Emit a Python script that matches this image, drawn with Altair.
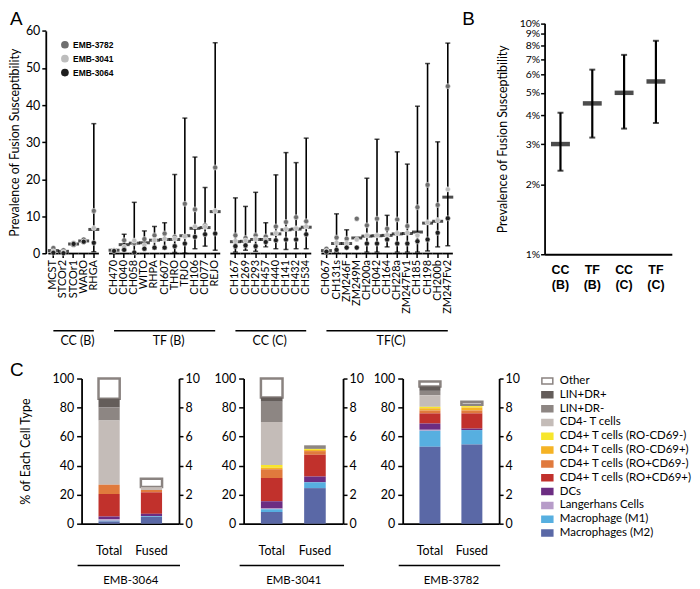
import altair as alt
import pandas as pd

FONT = "Lato"
ARIAL = "Liberation Sans"

# ---------------- Panel A data ----------------
cc_b = ["MCST", "STCOr2", "STCOr1", "WARO", "RHGA"]
tf_b = ["CH470", "CH040", "CH058", "WITO", "RHPA", "CH607", "THRO", "TRJO",
        "CH106", "CH077", "REJO"]
cc_c = ["CH167", "CH269", "CH293", "CH457", "CH440", "CH141", "CH432", "CH534"]
tf_c = ["CH067", "CH131s", "ZM246F", "ZM249M", "CH200a", "CH042", "CH164",
        "CH228a", "ZM247Fv1", "CH185", "CH198", "CH200b", "ZM247Fv2"]

median_a = [0.8, 0.6, 2.6, 3.4, 6.5,
            0.9, 2.4, 2.8, 2.9, 3.6, 3.8, 3.8, 4.8, 6.8, 7.0, 11.3,
            3.2, 3.3, 3.8, 3.8, 5.3, 6.4, 6.6, 7.1,
            0.8, 2.7, 2.7, 4.2, 4.7, 4.8, 4.9, 5.3, 5.4, 5.8, 8.2, 8.7, 15.2]
low_a = [0.3, 0.2, 2.2, 3.0, 0.5,
         0.6, 0.9, 0.0, 1.1, 1.3, 1.3, 0.3, 0.1, 1.3, 2.0, 0.9,
         0.4, 0.9, 0.6, 1.8, 1.3, 1.1, 1.3, 1.3,
         0.6, 0.4, 1.6, 4.2, 0.4, 0.4, 1.8, 0.4, 0.4, 0.4, 0.7, 1.8, 2.1]
high_a = [1.2, 1.0, 3.0, 3.8, 35.0,
          1.2, 5.2, 13.8, 6.1, 7.3, 8.3, 21.3, 36.5, 26.0, 17.8, 56.8,
          15.0, 12.7, 16.5, 8.3, 21.2, 27.2, 24.5, 31.1,
          1.0, 10.7, 6.4, 4.2, 20.3, 30.8, 10.3, 27.4, 24.1, 39.7, 51.2, 30.1, 56.7]
emb3782 = [1.5, 0.9, 2.4, 3.8, 11.5,
           0.9, 3.6, 2.8, 3.9, 4.9, 5.4, 4.5, 13.4, 11.9, 7.6, 23.2,
           4.9, 4.2, 4.9, 4.6, 7.3, 8.5, 9.8, 8.7,
           1.3, 4.3, 4.0, 9.4, 7.6, 9.4, 6.7, 9.2, 7.4, 12.5, 18.5, 13.1, 45.1]
emb3041 = [0.6, 0.4, 2.9, 3.2, 6.9,
           0.9, 1.8, 3.5, 2.3, 3.6, 4.0, 4.0, 4.6, 7.3, 7.2, 11.5,
           3.4, 3.5, 3.9, 3.7, 5.5, 6.6, 6.8, 7.3,
           0.7, 2.9, 2.8, 3.8, 4.9, 4.9, 5.0, 5.5, 5.6, 4.9, 8.4, 9.0, 17.3]
emb3064 = [0.2, 0.1, 2.6, 3.2, 2.9,
           0.7, 1.0, 0.3, 1.3, 1.6, 1.6, 2.0, 2.7, 4.5, 5.2, 5.4,
           2.0, 2.2, 2.0, 3.1, 3.6, 3.8, 3.8, 5.2,
           0.5, 1.0, 1.6, 1.6, 2.7, 2.7, 3.8, 2.7, 2.7, 3.3, 3.8, 5.6, 9.5]
samples = ["EMB-3782", "EMB-3041", "EMB-3064"]
sample_colors = ["#6e6e6e", "#bdbdbd", "#1e1e1e"]

group_names = ["CC (B)", "TF (B)", "CC (C)", "TF(C)"]
group_members = [cc_b, tf_b, cc_c, tf_c]
group_anchor = ["STCOr1", "CH607", "CH457", "CH164"]

# ---------------- Panel B data ----------------
b_groups = ["CC (B)", "TF (B)", "CC (C)", "TF (C)"]
b_median = [3.0, 4.5, 5.0, 5.6]
b_low = [2.3, 3.2, 3.5, 3.7]
b_high = [4.1, 6.3, 7.3, 8.4]
b_ticks = [1, 2, 3, 4, 5, 6, 7, 8, 9, 10]

# ---------------- Panel C data (legend order, top to bottom) ----------------
cells = ["Other", "LIN+DR+", "LIN+DR-", "CD4- T cells",
         "CD4+ T cells (RO-CD69-)", "CD4+ T cells (RO-CD69+)",
         "CD4+ T cells (RO+CD69-)", "CD4+ T cells (RO+CD69+)",
         "DCs", "Langerhans Cells", "Macrophage (M1)", "Macrophages (M2)"]
cell_fill = ["#ffffff", "#645d5a", "#8d8683", "#c4bcb8", "#f7e62c", "#f5b324",
             "#e07a3d", "#c1312c", "#6c2d82", "#b79cc9", "#57afe0", "#5a68a6"]
cell_stroke = ["#8a8380"] + cell_fill[1:]
donors = ["EMB-3064", "EMB-3041", "EMB-3782"]
total_vals = {
    "EMB-3064": [14.0, 6.0, 9.0, 44.2, 0, 0, 6.3, 15.5, 2.0, 1.0, 0.5, 1.5],
    "EMB-3041": [13.0, 3.0, 14.0, 29.5, 2.0, 1.0, 6.0, 16.0, 5.0, 0.5, 2.0, 8.0],
    "EMB-3782": [3.5, 3.0, 3.0, 8.0, 1.0, 1.5, 2.0, 7.0, 4.3, 0.7, 11.0, 53.0],
}
fused_vals = {
    "EMB-3064": [5.8, 0, 0, 2.0, 0, 0, 1.6, 14.8, 1.6, 0, 0.5, 4.7],
    "EMB-3041": [0, 0, 2.5, 0, 0.7, 0.8, 2.5, 15.0, 4.0, 0, 4.0, 24.5],
    "EMB-3782": [2.0, 0, 1.0, 0, 1.0, 2.0, 2.0, 10.5, 1.0, 0, 10.0, 54.5],
}
left_ticks = [0, 20, 40, 60, 80, 100]
right_ticks = [0, 2, 4, 6, 8, 10]

# ---------------- layout (pixel ranges inside one shared view) ----------------
VW, VH = 684, 580
A_X, A_Y = [36, 448], [245.3, 21.3]
B_X, B_Y = [537.7, 665.7], [246, 13.7]
C_Y = [517, 371]
C_X = {"EMB-3064": [72, 170], "EMB-3041": [235, 335], "EMB-3782": [395, 492]}

one = pd.DataFrame({"k": [0]})

# ================= Panel A =================
strains = cc_b + tf_b + cc_c + tf_c
x_domain = cc_b + ["gap1"] + tf_b + ["gap2"] + cc_c + ["gap3"] + tf_c
dfA = pd.DataFrame({"strain": strains, "median": median_a, "low": low_a,
                    "high": high_a, "EMB-3782": emb3782, "EMB-3041": emb3041,
                    "EMB-3064": emb3064})
gap_test = "indexof(datum.value, 'gap') == 0"
xA = alt.X("strain:N",
           scale=alt.Scale(type="band", domain=x_domain, range=A_X,
                           paddingInner=0, paddingOuter=0.25),
           axis=alt.Axis(orient="bottom", offset=A_Y[0] - VH, title=None, labelAngle=-90,
                         labelFontSize=11, labelPadding=2, tickSize=4, tickWidth=1.5,
                         domain=False, labelExpr=f"{gap_test} ? '' : datum.value",
                         tickOpacity={"condition": {"test": gap_test, "value": 0}, "value": 1}))
yA = alt.Y("low:Q", scale=alt.Scale(domain=[0, 60], range=A_Y, nice=False),
           axis=alt.Axis(orient="left", offset=-A_X[0], values=list(range(0, 61, 10)),
                         title="Prevalence of Fusion Susceptibility",
                         titleFontSize=12.5, titlePadding=4, labelFontSize=12.5,
                         tickSize=4, labelPadding=2))
baseA = alt.Chart(dfA)
a_err = baseA.mark_rule(color="black", strokeWidth=1.6).encode(x=xA, y=yA, y2="high:Q")
a_lo = baseA.mark_tick(color="black", size=5, thickness=1.5).encode(x=xA, y=alt.Y("low:Q"))
a_hi = baseA.mark_tick(color="black", size=5, thickness=1.5).encode(x=xA, y=alt.Y("high:Q"))
a_med = baseA.mark_tick(color="black", size=11, thickness=3).encode(x=xA, y=alt.Y("median:Q"))
a_pts = baseA.transform_fold(samples, as_=["sample", "value"]).mark_circle(
    size=26, opacity=1, stroke="white", strokeWidth=0.5).encode(
    x=xA, y=alt.Y("value:Q"),
    color=alt.Color("sample:N", scale=alt.Scale(domain=samples, range=sample_colors),
                    legend=alt.Legend(title=None, orient="none", legendX=51, legendY=31,
                                      labelFont=ARIAL, labelFontWeight="bold",
                                      labelFontSize=8.5, symbolSize=60, symbolType="circle",
                                      symbolStrokeWidth=0, rowPadding=5, labelOffset=4,
                                      labelColor="black")))
a_axis = alt.Chart(pd.DataFrame({"strain": strains})).mark_bar(color="black").encode(
    x=xA, y=alt.value(A_Y[0] - 0.9), y2=alt.value(A_Y[0] + 0.9))
dfG = pd.DataFrame({"strain": [g[0] for g in group_members],
                    "strain_end": [g[-1] for g in group_members]})
a_grule = alt.Chart(dfG).mark_rule(color="black", strokeWidth=1.5).encode(
    x=xA, x2="strain_end:N", y=alt.value(323))
dfGT = pd.DataFrame({"strain": group_anchor, "label": group_names})
a_gtext = alt.Chart(dfGT).mark_text(fontSize=12.5, dx=4, baseline="middle").encode(
    x=xA, y=alt.value(333), text="label:N")
panelA = alt.layer(a_axis, a_err, a_lo, a_hi, a_med, a_pts, a_grule, a_gtext)

# ================= Panel B =================
dfB = pd.DataFrame({"grp": b_groups, "median": b_median, "low": b_low, "high": b_high})
xB = alt.X("grp:N", sort=b_groups,
           scale=alt.Scale(type="band", range=B_X, paddingInner=0, paddingOuter=0),
           axis=alt.Axis(orient="bottom", offset=B_Y[0] - VH, title=None, labelAngle=0,
                         labelExpr="split(datum.label, ' ')", labelFont=ARIAL,
                         labelFontWeight="bold", labelFontSize=12.5, ticks=False,
                         labelPadding=9, labelLineHeight=15))
yB = alt.Y("low:Q", scale=alt.Scale(type="log", domain=[1, 10], range=B_Y, nice=False),
           axis=alt.Axis(orient="left", offset=-B_X[0], values=b_ticks,
                         labelExpr="datum.value + '%'",
                         title="Prevalence of Fusion Susceptibility", titleFontSize=12.5,
                         titlePadding=10, labelFontSize=10.5, tickSize=4, labelPadding=1))
baseB = alt.Chart(dfB)
b_err = baseB.mark_rule(color="black", strokeWidth=2.2).encode(x=xB, y=yB, y2="high:Q")
b_lo = baseB.mark_tick(color="black", size=6, thickness=2).encode(x=xB, y=alt.Y("low:Q"))
b_hi = baseB.mark_tick(color="black", size=6, thickness=2).encode(x=xB, y=alt.Y("high:Q"))
b_med = baseB.mark_tick(color="black", size=19, thickness=4.5).encode(x=xB, y=alt.Y("median:Q"))
panelB = alt.layer(b_err, b_lo, b_hi, b_med)

# ================= Panel C =================
c_legend = alt.Legend(title=None, orient="none", legendX=534, legendY=367,
                      symbolType="M-1,-0.55L1,-0.55L1,0.55L-1,0.55Z", symbolSize=121,
                      symbolStrokeWidth=1.5, labelFontSize=11.5, labelOffset=6,
                      rowPadding=0.9, labelFont=FONT, labelColor="black")


def c_panel(donor, first):
    rows = []
    for bar, vals in (("Total", total_vals[donor]), ("Fused", fused_vals[donor])):
        for i, (cell, v) in enumerate(zip(cells, vals)):
            rows.append({"bar": bar, "cell": cell, "value": v, "order": len(cells) - 1 - i})
    df = pd.DataFrame(rows)
    x0, x1 = C_X[donor]
    bars = alt.Chart(df).transform_filter("datum.value > 0").mark_bar().encode(
        x=alt.X("bar:N", sort=["Total", "Fused"],
                scale=alt.Scale(type="band", range=[x0, x1], paddingInner=0.5, paddingOuter=0.4),
                axis=alt.Axis(orient="bottom", offset=C_Y[0] - VH, title=donor, labelAngle=0,
                              ticks=False, labelPadding=21, labelFontSize=12.5,
                              titleFontSize=11.5, titlePadding=18)),
        y=alt.Y("value:Q", stack="zero",
                scale=alt.Scale(domain=[0, 100], range=C_Y, nice=False),
                axis=alt.Axis(orient="left", offset=-x0, values=left_ticks,
                              title="% of Each Cell Type" if first else None,
                              titleFontSize=12.5, titlePadding=20, labelFontSize=12.5,
                              tickSize=5, labelPadding=3)),
        fill=alt.Fill("cell:N", scale=alt.Scale(domain=cells, range=cell_fill), legend=c_legend),
        stroke=alt.Stroke("cell:N", scale=alt.Scale(domain=cells, range=cell_stroke),
                          legend=c_legend),
        strokeWidth=alt.when("datum.cell == 'Other'").then(alt.value(2.5)).otherwise(alt.value(0)),
        order=alt.Order("order:Q"),
    )
    right = alt.Chart(pd.DataFrame({"r": [right_ticks[0], right_ticks[-1]]})).mark_point(
        opacity=0).encode(
        y=alt.Y("r:Q", scale=alt.Scale(domain=[0, 10], range=C_Y, nice=False),
                axis=alt.Axis(orient="right", offset=x1 - VW, values=right_ticks, title=None,
                              labelFontSize=12.5, tickSize=4, labelPadding=2)))
    underline = alt.Chart(one).mark_rule(color="black", strokeWidth=1.5).encode(
        x=alt.value(x0 - 4), x2=alt.value(x1 + 1), y=alt.value(559))
    return alt.layer(bars, right, underline).resolve_scale(y="independent")


panelC = [c_panel(d, i == 0) for i, d in enumerate(donors)]


def letter(t, x, y):
    return alt.Chart(one).mark_text(text=t, fontSize=19, font=ARIAL, align="left",
                                    baseline="top", color="black").encode(
        x=alt.value(x), y=alt.value(y))


chart = alt.layer(
    panelA, panelB, *panelC,
    letter("A", 0, 0), letter("B", 455, 0), letter("C", 0, 353.7),
).resolve_scale(x="independent", y="independent").properties(
    width=VW, height=VH, padding={"left": 0, "top": 0, "right": 0, "bottom": 0}
).configure(font=FONT).configure_view(stroke=None).configure_axis(
    domainColor="black", domainWidth=1.8, tickColor="black", labelColor="black",
    titleColor="black", titleFontWeight="normal", grid=False, labelFont=FONT,
    titleFont=FONT, labelOverlap=False, tickWidth=1.5)

chart.save("out.html", embed_options={"renderer": "svg", "actions": False})
